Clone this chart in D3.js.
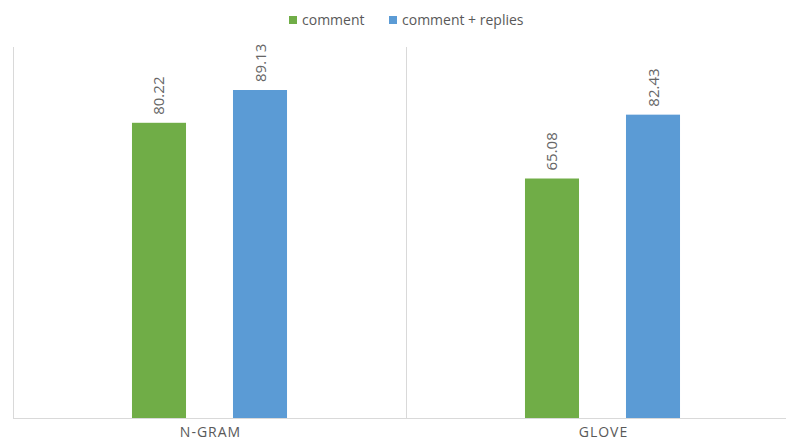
<!DOCTYPE html>
<html>
<head>
<meta charset="utf-8">
<script src="https://cdn.jsdelivr.net/npm/d3@7"></script>
<style>
  html, body { margin: 0; padding: 0; background: #fff; }
  svg { display: block; font-family: "Open Sans", "Noto Sans", sans-serif; }
</style>
</head>
<body>
<svg id="chart" width="786" height="440"></svg>
<script>
// Grouped bar chart: accuracy of comment vs. comment + replies features
const categories = ["N-GRAM", "GLOVE"];
const seriesNames = ["comment", "comment + replies"];
const commentValues = [80.22, 65.08];
const commentRepliesValues = [89.13, 82.43];
const seriesColors = ["#70ad47", "#5b9bd5"];

const series = [commentValues, commentRepliesValues];

const svg = d3.select("#chart");
const W = 786;
const margin = { left: 13, top: 47, bottom: 418 };
const plotRight = 799; // the plot area runs slightly past the window edge

const x = d3.scaleBand()
  .domain(categories)
  .range([margin.left, plotRight])
  .paddingInner(0)
  .paddingOuter(0);

const x1 = d3.scaleBand()
  .domain(d3.range(seriesNames.length))
  .range([0, x.bandwidth()])
  .paddingInner(0.465)
  .paddingOuter(1.178);

const y = d3.scaleLinear()
  .domain([0, 100])
  .range([margin.bottom, margin.bottom - 368]);

// vertical category separators
const seps = categories.map(c => x(c));
svg.append("g")
  .selectAll("line")
  .data(seps)
  .join("line")
  .attr("x1", d => d + 0.5)
  .attr("x2", d => d + 0.5)
  .attr("y1", margin.top)
  .attr("y2", margin.bottom)
  .attr("stroke", "#d9d9d9")
  .attr("stroke-width", 1);

// bars
const groups = svg.append("g")
  .selectAll("g")
  .data(categories)
  .join("g")
  .attr("transform", c => `translate(${x(c)},0)`);

groups.selectAll("rect")
  .data((c, ci) => series.map((s, si) => ({ si, v: s[ci] })))
  .join("rect")
  .attr("x", d => x1(d.si))
  .attr("width", x1.bandwidth())
  .attr("y", d => y(d.v))
  .attr("height", d => y(0) - y(d.v))
  .attr("fill", d => seriesColors[d.si]);

// value labels, rotated above each bar
groups.selectAll("text.val")
  .data((c, ci) => series.map((s, si) => ({ si, v: s[ci] })))
  .join("text")
  .attr("class", "val")
  .attr("transform", d => `translate(${x1(d.si) + x1.bandwidth() / 2 + 5.5},${y(d.v) - 8}) rotate(-90)`)
  .attr("text-anchor", "start")
  .attr("font-size", 15)
  .attr("fill", "#666666")
  .text(d => d.v.toFixed(2));

// x axis baseline
svg.append("line")
  .attr("x1", margin.left)
  .attr("x2", W)
  .attr("y1", margin.bottom + 0.5)
  .attr("y2", margin.bottom + 0.5)
  .attr("stroke", "#d9d9d9")
  .attr("stroke-width", 1);

// category labels
svg.append("g")
  .selectAll("text")
  .data(categories)
  .join("text")
  .attr("x", c => x(c) + x.bandwidth() / 2 + 1)
  .attr("y", 437)
  .attr("text-anchor", "middle")
  .attr("font-size", 14)
  .attr("letter-spacing", 1)
  .attr("fill", "#595959")
  .text(c => c);

// legend
const legendItems = [
  { name: seriesNames[0], color: seriesColors[0], x: 289 },
  { name: seriesNames[1], color: seriesColors[1], x: 389 }
];
const legend = svg.append("g")
  .selectAll("g")
  .data(legendItems)
  .join("g")
  .attr("transform", d => `translate(${d.x},0)`);
legend.append("rect")
  .attr("x", 0).attr("y", 16)
  .attr("width", 8).attr("height", 8)
  .attr("fill", d => d.color);
legend.append("text")
  .attr("x", 13).attr("y", 25)
  .attr("font-size", 14)
  .attr("fill", "#595959")
  .text(d => d.name);
</script>
</body>
</html>
